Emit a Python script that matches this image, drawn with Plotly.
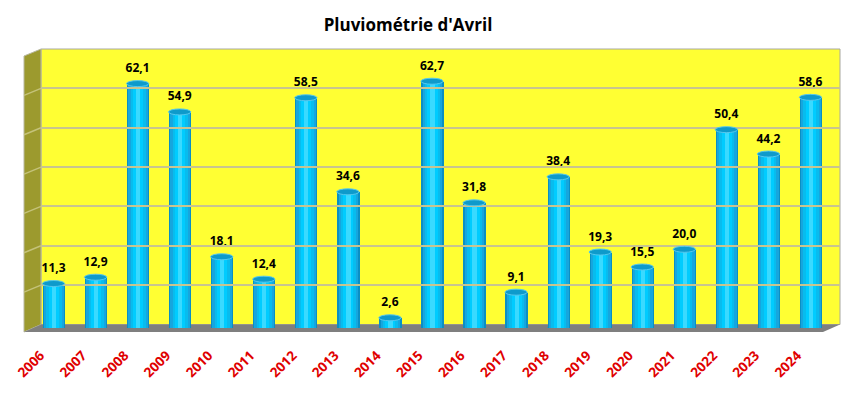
import plotly.graph_objects as go

years = ["2006", "2007", "2008", "2009", "2010", "2011", "2012", "2013", "2014", "2015",
         "2016", "2017", "2018", "2019", "2020", "2021", "2022", "2023", "2024"]
rain = [11.3, 12.9, 62.1, 54.9, 18.1, 12.4, 58.5, 34.6, 2.6, 62.7,
        31.8, 9.1, 38.4, 19.3, 15.5, 20.0, 50.4, 44.2, 58.6]
labels = [f"{v:.1f}".replace(".", ",") for v in rain]
title_text = "Pluviométrie d'Avril"
y_max = 70
y_step = 10

OFF = 8  # default page body margin
W, H = 852 - OFF, 394 - OFF
# plot region in pixels (figure coordinates)
L, R, T, B = 24 - OFF, 840 - OFF, 49 - OFF, 332 - OFF
DX, DY = 17, 7  # depth offset (pixels)
pw, ph = R - L, B - T

def fx(px):
    return (px - L) / pw

def fy(py):
    return (B - py) / ph

back_x = [fx(L + DX), fx(R)]
back_y = [fy(B - DY - 0.5), fy(T)]
mid_x = [fx(L + DX / 2), fx(R - DX / 2)]
mid_y = [fy(B - DY / 2 - 0.5), fy(T + DY / 2)]

fig = go.Figure()

# dummy trace to activate back axes
fig.add_trace(go.Scatter(x=[0], y=[0], xaxis="x2", yaxis="y2", mode="markers",
                         marker=dict(opacity=0), showlegend=False, hoverinfo="skip"))

# cylinder bars: layered bars for shading
layers = [
    (0.53, "#0A8FC4"),
    (0.47, "#16A6DE"),
    (0.36, "#08BCEE"),
    (0.24, "#00CCFF"),
    (0.10, "#3ADAFF"),
]
for w, c in layers:
    fig.add_trace(go.Bar(
        x=years, y=rain, width=w, marker=dict(color=c, line=dict(width=0)),
        xaxis="x", yaxis="y", hoverinfo="skip", showlegend=False,
    ))

# value labels
fig.add_trace(go.Scatter(
    x=years, y=rain, mode="markers+text", text=labels, textposition="top center",
    marker=dict(size=12, opacity=0),
    textfont=dict(family="Open Sans", size=12, color="#000000", weight="bold"),
    xaxis="x", yaxis="y", showlegend=False, hoverinfo="skip", cliponaxis=False,
))

shapes = []
# back wall
shapes.append(dict(type="rect", xref="paper", yref="paper",
                   x0=back_x[0], x1=back_x[1], y0=back_y[0], y1=back_y[1],
                   fillcolor="#FFFF33", line=dict(color="#A8A8A0", width=1), layer="below"))
# left wall
shapes.append(dict(type="path", xref="paper", yref="paper",
                   path=f"M 0 0 L {back_x[0]} {back_y[0]} L {back_x[0]} 1 L 0 {fy(T + DY)} Z",
                   fillcolor="#9C9A2E", line=dict(color="#B8B8A0", width=1), layer="below"))
# floor
shapes.append(dict(type="path", xref="paper", yref="paper",
                   path=f"M 0 0 L {fx(R - DX)} 0 L 1 {back_y[0]} L {back_x[0]} {back_y[0]} Z",
                   fillcolor="#7F7F7F", line=dict(width=0), layer="below"))
# diagonal gridlines on left wall
for v in range(y_step, y_max, y_step):
    shapes.append(dict(type="line", xref="paper", yref="y2", ysizemode="pixel", yanchor=v,
                       x0=back_x[0], x1=0, y0=0, y1=-DY,
                       line=dict(color="#C4C27A", width=1.5), layer="below"))

# cylinder top and bottom caps
for i, v in enumerate(rain):
    shapes.append(dict(type="circle", xref="x", yref="y", ysizemode="pixel", yanchor=v,
                       x0=i - 0.265, x1=i + 0.265, y0=-3, y1=3,
                       fillcolor="#0E9ACB", line=dict(color="#55C8EE", width=1), layer="above"))
    shapes.append(dict(type="circle", xref="x", yref="y", ysizemode="pixel", yanchor=0,
                       x0=i - 0.265, x1=i + 0.265, y0=-3, y1=3,
                       fillcolor="#10A2D6", line=dict(width=0), layer="below"))

fig.update_layout(
    width=W, height=H, autosize=False,
    margin=dict(l=L, r=W - R, t=T, b=H - B, pad=0, autoexpand=False),
    paper_bgcolor="white", plot_bgcolor="rgba(0,0,0,0)",
    barmode="overlay", bargap=0,
    title=dict(text=f"<b>{title_text}</b>", x=(408 - OFF) / W, xanchor="center",
               y=1 - (25 - OFF) / H, yanchor="middle", xref="container", yref="container",
               font=dict(family="Open Sans", size=17, color="#000000"), automargin=False),
    xaxis=dict(domain=mid_x, type="category", range=[-0.5, len(years) - 0.5],
               showgrid=False, zeroline=False, automargin=False,
               showline=False, ticks="", tickangle=-45,
               tickfont=dict(family="Open Sans", size=13.5, color="#E00000", weight="bold"),
               ticklabelstandoff=16, ticklabelshift=-13),
    yaxis=dict(domain=mid_y, range=[0, y_max], showgrid=False, zeroline=False,
               showticklabels=False, showline=False, automargin=False),
    xaxis2=dict(domain=back_x, range=[0, 1], anchor="y2", automargin=False,
                showgrid=False, zeroline=False, showticklabels=False, showline=False),
    yaxis2=dict(domain=back_y, range=[0, y_max], anchor="x2", dtick=y_step, automargin=False,
                showgrid=True, gridcolor="#C8C490", gridwidth=1.5,
                zeroline=False, showticklabels=False, showline=False),
    shapes=shapes,
)

fig.write_html("out.html")
